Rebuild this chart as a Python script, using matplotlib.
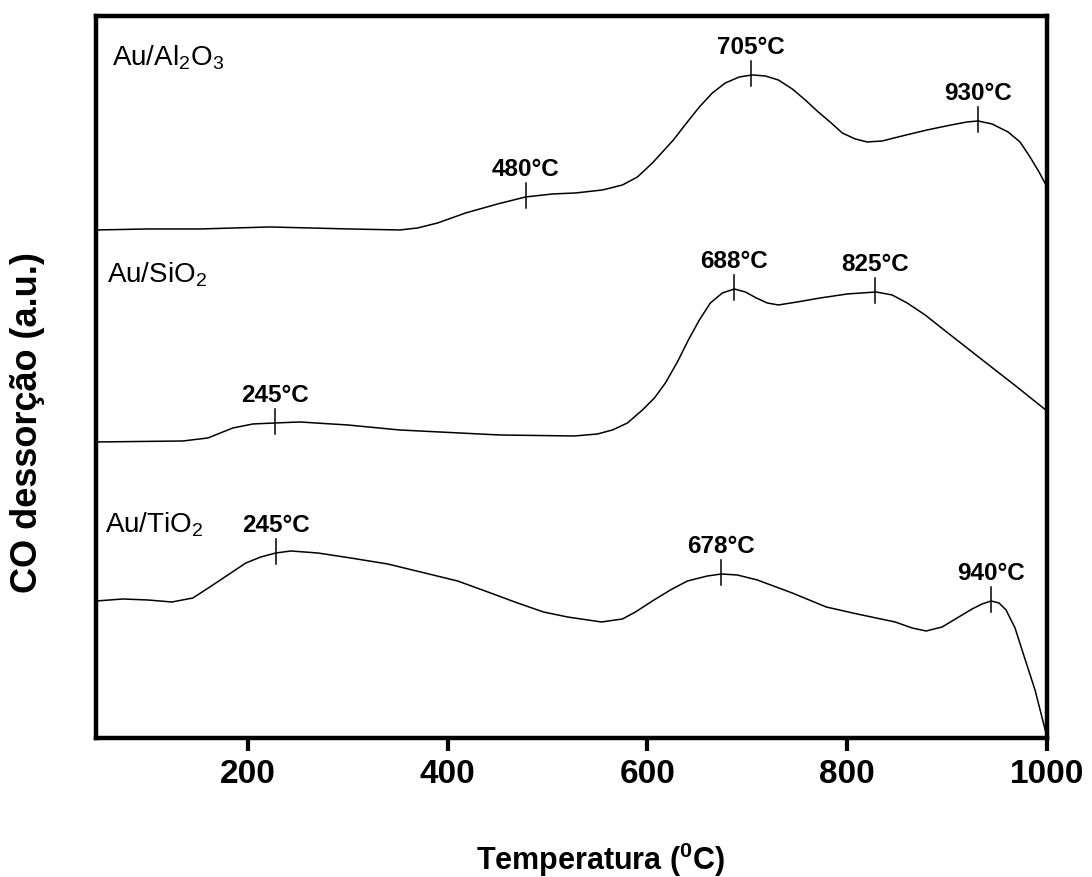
import numpy as np
from matplotlib import pyplot as plt

plt.rcParams['font.family'] = ['Liberation Sans', 'DejaVu Sans']
plt.rcParams['mathtext.fontset'] = 'custom'
plt.rcParams['mathtext.rm'] = 'Liberation Sans'
plt.rcParams['mathtext.bf'] = 'Liberation Sans:bold'

# curves (temperature, signal in arbitrary units)
al_t = [48, 100, 152, 222, 302, 352, 370, 390, 418, 450, 478, 505, 528, 555, 575,
        590, 605, 626, 640, 652, 665, 678, 692, 705, 718, 731, 745, 758, 771, 784,
        795, 808, 820, 835, 859, 880, 904, 920, 931, 945, 961, 973, 983, 992, 1000]
al_y = [508, 509, 509, 511, 509, 508, 510, 515, 525, 534, 541, 544, 545, 548, 553,
        561, 575, 598, 616, 631, 645, 655, 661, 663, 662, 658, 649, 638, 626, 615,
        605, 599, 596, 597, 603, 608, 613, 616, 617, 614, 606, 596, 581, 566, 551]

si_t = [48, 135, 160, 185, 205, 227, 252, 300, 352, 452, 527, 550, 565, 580, 595,
        607, 618, 630, 641, 652, 663, 675, 687, 698, 709, 720, 731, 750, 773, 800,
        829, 845, 860, 878, 897, 920, 943, 970, 1000]
si_y = [296, 297, 300, 310, 314, 315, 316, 313, 308, 303, 302, 304, 308, 315, 328,
        340, 355, 376, 398, 418, 435, 445, 449, 446, 440, 435, 433, 436, 440, 444,
        446, 443, 435, 423, 408, 390, 372, 351, 327]

ti_t = [48, 75, 100, 124, 145, 162, 180, 198, 213, 228, 243, 270, 303, 340, 373,
        410, 443, 470, 496, 520, 554, 575, 588, 605, 623, 640, 660, 674, 690, 710,
        745, 779, 810, 848, 865, 879, 895, 910, 925, 935, 944, 952, 959, 968, 976,
        988, 1000]
ti_y = [137, 139, 138, 136, 140, 151, 163, 175, 181, 185, 187, 185, 180, 174, 166,
        157, 145, 135, 126, 121, 116, 119, 126, 137, 148, 157, 162, 164, 163, 158,
        145, 131, 124, 116, 110, 107, 111, 120, 129, 134, 137, 135, 128, 110, 85,
        48, 1]

samples = ['Au/Al$_{2}$O$_{3}$', 'Au/SiO$_{2}$', 'Au/TiO$_{2}$']
sample_pos = [(64, 673), (59, 456), (57, 206)]

# peak markers: position on the curve and label text
al_peaks = [478, 704, 931]
al_labels = ['480°C', '705°C', '930°C']
si_peaks = [227, 687, 828]
si_labels = ['245°C', '688°C', '825°C']
ti_peaks = [228, 674, 944]
ti_labels = ['245°C', '678°C', '940°C']

xticks = [200, 400, 600, 800, 1000]

fig = plt.figure(figsize=(10.92, 8.77), dpi=100)
ax = fig.add_axes([0.0879, 0.1585, 0.8709, 0.8233])

curves = [(al_t, al_y, al_peaks, al_labels),
          (si_t, si_y, si_peaks, si_labels),
          (ti_t, ti_y, ti_peaks, ti_labels)]

for t, y, peaks, labels in curves:
    ax.plot(t, y, color='black', lw=1.1, solid_joinstyle='round')
    for p, lab in zip(peaks, labels):
        yc = np.interp(p, t, y)
        ax.plot([p, p], [yc - 11, yc + 14], color='black', lw=1.1)
        ax.text(p, yc + 21, lab, ha='center', va='baseline',
                fontsize=17.5, fontweight='bold')

for name, (x, y) in zip(samples, sample_pos):
    ax.text(x, y, name, ha='left', va='baseline', fontsize=20)

ax.set_xlim(48, 1000)
ax.set_ylim(0, 722)
ax.set_xticks(xticks)
ax.set_yticks([])
ax.tick_params(axis='x', direction='out', length=9, width=3, pad=6, labelsize=24)
for lbl in ax.get_xticklabels():
    lbl.set_fontweight('bold')
for s in ax.spines.values():
    s.set_linewidth(3.2)
    s.set_color('black')

fig.text(0.550, 0.008, 'Temperatura ($^{\\mathbf{0}}$C)', ha='center', va='baseline',
         fontsize=22, fontweight='bold')
fig.text(0.0256, 0.5177, 'CO dessorção (a.u.)', ha='center', va='center',
         rotation=90, fontsize=26, fontweight='bold')

plt.savefig('out.png', dpi=100)
